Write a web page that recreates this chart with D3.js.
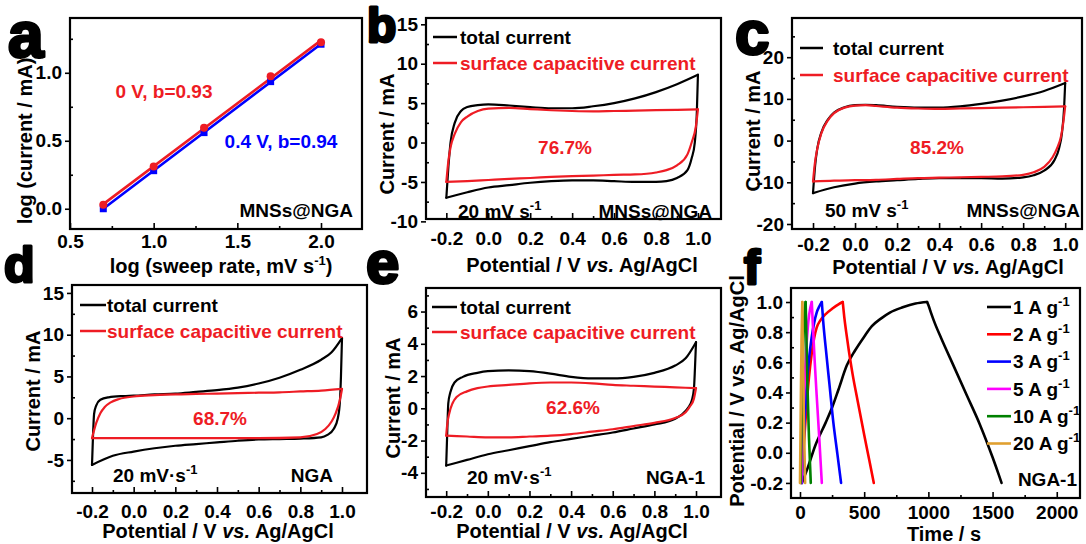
<!DOCTYPE html>
<html><head><meta charset="utf-8">
<script src="https://cdn.jsdelivr.net/npm/d3@7"></script>
<style>
body{margin:0;background:#fff;}
svg text{font-family:"Liberation Sans",Arial,sans-serif;font-weight:bold;}
</style></head><body>
<script>
// ---------------- DATA ----------------
// Panel a : log(current) vs log(sweep rate)
const logRate = [0.699, 1.0, 1.301, 1.699, 2.0];
const logI_0V = [0.03, 0.31, 0.595, 0.975, 1.225];
const logI_04V = [0.0, 0.28, 0.56, 0.935, 1.21];

// Panel b : MNSs@NGA, 20 mV/s  (anodic sweep -0.2 -> 1.0, then cathodic 1.0 -> -0.2)
const bTotalV = [-0.2,-0.19,-0.18,-0.16,-0.13,-0.1,-0.05,0,0.1,0.2,0.3,0.4,0.5,0.6,0.7,0.8,0.9,1.0, 0.995,0.985,0.97,0.95,0.9,0.85,0.8,0.7,0.6,0.5,0.4,0.3,0.2,0.1,0,-0.1,-0.2];
const bTotalI = [-7.0,-3,0,2.5,4.0,4.5,4.75,4.85,4.7,4.5,4.35,4.35,4.6,5.0,5.6,6.4,7.4,8.6, 4,0,-2,-3.5,-4.5,-4.9,-5.0,-5.0,-4.9,-4.8,-4.8,-4.9,-5.1,-5.4,-5.7,-6.3,-7.0];
const bSurfV = [-0.2,-0.19,-0.18,-0.16,-0.13,-0.1,-0.05,0,0.1,0.2,0.3,0.4,0.5,0.6,0.7,0.8,0.9,1.0, 0.99,0.97,0.95,0.9,0.85,0.8,0.7,0.6,0.5,0.4,0.3,0.2,0.1,0,-0.1,-0.2];
const bSurfI = [-5.0,-2.3,-0.6,1.1,2.6,3.3,4.0,4.3,4.4,4.25,4.1,4.0,3.95,4.0,4.05,4.1,4.15,4.2, 2.0,0.0,-1.5,-2.9,-3.5,-3.8,-4.05,-4.1,-4.2,-4.25,-4.35,-4.5,-4.6,-4.75,-4.9,-5.0];

// Panel c : MNSs@NGA, 50 mV/s
const cTotalV = [-0.2,-0.19,-0.18,-0.16,-0.13,-0.1,-0.05,0,0.05,0.1,0.2,0.3,0.4,0.5,0.6,0.7,0.8,0.9,1.0, 0.995,0.985,0.97,0.95,0.9,0.85,0.8,0.7,0.6,0.5,0.4,0.3,0.2,0.1,0,-0.1,-0.2];
const cTotalI = [-12.6,-6,-2,2,5,6.7,8.0,8.5,8.6,8.5,8.1,7.9,7.9,8.2,8.8,9.6,10.6,11.9,13.8, 8,2,-2,-4.6,-7.2,-8.3,-8.8,-9.1,-9.0,-9.0,-9.0,-9.2,-9.5,-9.8,-10.3,-11.2,-12.6];
const cSurfV = [-0.2,-0.19,-0.18,-0.16,-0.13,-0.1,-0.05,0,0.05,0.1,0.2,0.3,0.4,0.5,0.6,0.7,0.8,0.9,1.0, 0.99,0.98,0.96,0.94,0.9,0.85,0.8,0.7,0.6,0.5,0.4,0.3,0.2,0.1,0,-0.1,-0.2];
const cSurfI = [-9.8,-5,-2,1.8,4.8,6.6,7.9,8.4,8.5,8.3,7.9,7.7,7.6,7.7,7.8,7.9,8.0,8.1,8.2, 4,1,-2,-4.0,-6.3,-7.6,-8.2,-8.6,-8.7,-8.8,-8.9,-9.0,-9.2,-9.4,-9.5,-9.6,-9.8];

// Panel d : NGA, 20 mV/s
const dTotalV = [-0.2,-0.195,-0.19,-0.18,-0.16,-0.12,-0.05,0,0.1,0.2,0.3,0.4,0.5,0.6,0.7,0.8,0.9,0.95,1.0, 0.995,0.99,0.98,0.96,0.93,0.9,0.8,0.7,0.6,0.5,0.4,0.3,0.2,0.1,0,-0.1,-0.2];
const dTotalI = [-5.6,-2,0.5,1.5,2.2,2.5,2.65,2.7,2.85,2.95,3.15,3.35,3.65,4.15,4.85,5.8,7.0,7.9,9.6, 5,2,0,-1.3,-2.0,-2.3,-2.45,-2.5,-2.55,-2.7,-2.9,-3.1,-3.3,-3.6,-4.0,-4.5,-5.6];
const dSurfV = [-0.2,-0.18,-0.16,-0.14,-0.11,-0.07,0,0.1,0.2,0.3,0.4,0.5,0.6,0.7,0.8,0.9,1.0, 0.99,0.97,0.95,0.92,0.88,0.8,0.6,0.4,0.2,0,-0.2];
const dSurfI = [-2.4,-0.6,0.6,1.3,1.9,2.3,2.6,2.75,2.85,2.9,2.95,3.0,3.05,3.1,3.2,3.3,3.5, 2.2,0.6,-0.4,-1.3,-1.9,-2.3,-2.4,-2.4,-2.4,-2.4,-2.4];

// Panel e : NGA-1, 20 mV/s
const eTotalV = [-0.2,-0.195,-0.19,-0.18,-0.16,-0.12,-0.05,0,0.1,0.2,0.3,0.4,0.5,0.6,0.7,0.8,0.9,0.95,1.0, 0.995,0.99,0.98,0.96,0.93,0.9,0.8,0.7,0.6,0.5,0.4,0.3,0.2,0.1,0,-0.1,-0.2];
const eTotalI = [-3.55,-1.5,0.3,1.0,1.6,1.95,2.2,2.3,2.35,2.3,2.15,1.95,1.85,1.85,1.95,2.2,2.65,3.1,4.1, 2.5,1.2,0.5,0.0,-0.4,-0.65,-1.0,-1.25,-1.5,-1.7,-1.9,-2.1,-2.35,-2.6,-2.85,-3.2,-3.55];
const eSurfV = [-0.2,-0.195,-0.185,-0.17,-0.15,-0.1,-0.05,0,0.1,0.2,0.3,0.4,0.5,0.6,0.7,0.8,0.9,1.0, 0.99,0.97,0.95,0.9,0.8,0.7,0.6,0.5,0.4,0.3,0.2,0.1,0,-0.1,-0.2];
const eSurfI = [-1.7,-1.0,-0.3,0.3,0.7,1.05,1.25,1.35,1.45,1.55,1.6,1.6,1.55,1.45,1.4,1.35,1.3,1.25, 0.6,0.1,-0.25,-0.6,-0.9,-1.1,-1.3,-1.45,-1.6,-1.7,-1.75,-1.8,-1.8,-1.75,-1.7];

// Panel f : NGA-1 galvanostatic charge/discharge
const gcdLabels = ["1 A g", "2 A g", "3 A g", "5 A g", "10 A g", "20 A g"];
const t1 = [15,60,120,200,250,300,365,430,500,560,630,700,800,900,990, 1000,1020,1050,1100,1200,1300,1400,1500,1550,1570];
const v1 = [-0.2,-0.1,0.05,0.2,0.3,0.42,0.58,0.68,0.77,0.84,0.89,0.93,0.965,0.99,1.0, 0.98,0.93,0.86,0.76,0.57,0.38,0.19,-0.03,-0.15,-0.2];
const t2 = [10,30,50,70,90,110,130,160,200,250,300,333, 345,360,380,410,450,500,540,575];
const v2 = [-0.2,0.05,0.3,0.5,0.65,0.76,0.83,0.88,0.92,0.955,0.985,1.0, 0.9,0.8,0.68,0.52,0.34,0.12,-0.05,-0.2];
const t3 = [15,30,50,70,90,110,130,150,170, 180,200,230,260,290,320];
const v3 = [-0.2,0.1,0.42,0.62,0.76,0.86,0.93,0.97,1.0, 0.88,0.7,0.45,0.2,0.0,-0.2];
const t5 = [10,20,35,50,65,80,92, 100,115,130,150,170];
const v5 = [-0.2,0.1,0.45,0.7,0.87,0.96,1.0, 0.85,0.6,0.38,0.1,-0.2];
const t10 = [5,15,25,35,44, 48,58,70,84];
const v10 = [-0.2,0.3,0.7,0.92,1.0, 0.85,0.45,0.1,-0.2];
const t20 = [0,6,12,18, 22,30,40];
const v20 = [-0.2,0.3,0.75,1.0, 0.7,0.25,-0.2];

// ---------------- LAYOUT / STYLE ----------------
const W = 1086, H = 544;
const FS = 19, TFS = 20;
const RED = "#ee1c24", BLUE = "#0000ff";
const gcdColors = ["#000000", "#ff0000", "#0000ff", "#ff00ff", "#008000", "#e0a030"];

const svg = d3.select("body").append("svg").attr("width", W).attr("height", H)
  .style("background", "#fff");

const hy = s => s.replace(/\u2212/g, "-");
const f1 = v => hy(d3.format(".1f")(v));
const f0 = v => hy(d3.format("d")(v));

function makePanel(p) {
  const x = d3.scaleLinear().domain(p.xd).range([p.l, p.r]);
  const y = d3.scaleLinear().domain(p.yd).range([p.b, p.t]);
  const g = svg.append("g");
  const style = sel => {
    sel.select(".domain").remove();
    sel.selectAll("line").attr("stroke", "#000").attr("stroke-width", 1.6);
    sel.selectAll("text").attr("font-size", FS).attr("fill", "#000")
      .style("font-family", '"Liberation Sans", Arial, sans-serif').style("font-weight", "bold");
  };
  g.append("g").attr("transform", `translate(0,${p.b})`)
    .call(d3.axisBottom(x).tickValues(p.xt).tickSize(-6).tickPadding(p.xpad).tickFormat(p.xf)).call(style);
  g.append("g").attr("transform", `translate(0,${p.b})`)
    .call(d3.axisBottom(x).tickValues(p.xm).tickSize(-3).tickFormat("")).call(style);
  g.append("g").attr("transform", `translate(${p.l},0)`)
    .call(d3.axisLeft(y).tickValues(p.yt).tickSize(5).tickPadding(3).tickFormat(p.yf)).call(style);
  g.append("g").attr("transform", `translate(${p.l},0)`)
    .call(d3.axisLeft(y).tickValues(p.ym).tickSize(-3).tickFormat("")).call(style);
  const plot = svg.append("g");
  svg.append("rect").attr("x", p.l).attr("y", p.t).attr("width", p.r - p.l).attr("height", p.b - p.t)
    .attr("fill", "none").attr("stroke", "#000").attr("stroke-width", 2.2);
  const xt = svg.append("text").attr("x", p.xtx).attr("y", p.xty).attr("dy", "0.35em")
    .attr("text-anchor", "middle").attr("font-size", TFS);
  p.xtitle(xt);
  const yt = svg.append("text").attr("transform", `translate(${p.ytx},${p.yty}) rotate(-90)`)
    .attr("dy", "0.35em").attr("text-anchor", "middle").attr("font-size", TFS);
  p.ytitle(yt);
  return {x, y, g: plot};
}

function sup(sel, base, supTxt, after) {
  sel.append("tspan").text(base);
  sel.append("tspan").attr("font-size", 13).attr("dy", -8).text(supTxt);
  sel.append("tspan").attr("dy", 8).text(after || "");
}
const potTitle = t => {
  t.append("tspan").text("Potential / V ");
  t.append("tspan").attr("font-style", "italic").text("vs.");
  t.append("tspan").text(" Ag/AgCl");
};
const curTitle = t => t.text("Current / mA");

function path(pan, pts, color, w, c) {
  pan.g.append("path").datum(pts)
    .attr("d", d3.line().x(d => pan.x(d[0])).y(d => pan.y(d[1])).curve(c))
    .attr("fill", "none").attr("stroke", color).attr("stroke-width", w)
    .attr("stroke-linejoin", "round").attr("stroke-linecap", "round");
}
// draw a curve split at its x-maximum into two x-monotone branches
function branches(pan, xs, ys, color, w) {
  const pts = xs.map((v, i) => [v, ys[i]]);
  const k = d3.maxIndex(xs);
  path(pan, pts.slice(0, k + 1), color, w, d3.curveMonotoneX);
  path(pan, pts.slice(k).reverse(), color, w, d3.curveMonotoneX);
}
// GCD: split at potential maximum (charge / discharge)
function gcd(pan, ts, vs, color, w) {
  const pts = ts.map((v, i) => [v, vs[i]]);
  const k = d3.maxIndex(vs);
  path(pan, pts.slice(0, k + 1), color, w, d3.curveMonotoneX);
  path(pan, pts.slice(k), color, w, d3.curveMonotoneX);
}
function label(x, y, txt, color, anchor) {
  return svg.append("text").attr("x", x).attr("y", y).attr("dy", "0.35em")
    .attr("text-anchor", anchor || "start").attr("font-size", FS).attr("fill", color || "#000").text(txt);
}
function rateLabel(x, y, rate, dot) {
  const t = svg.append("text").attr("x", x).attr("y", y).attr("dy", "0.35em").attr("font-size", FS);
  sup(t, rate + (dot ? " mV\u00b7s" : " mV s"), "-1");
}
function legendRow(x1, x2, tx, y, color, txt) {
  svg.append("line").attr("x1", x1).attr("x2", x2).attr("y1", y).attr("y2", y)
    .attr("stroke", color).attr("stroke-width", 2.5);
  label(tx, y, txt, color);
}

const cvXt = [-0.2, 0, 0.2, 0.4, 0.6, 0.8, 1.0];
const cvXm = [-0.1, 0.1, 0.3, 0.5, 0.7, 0.9];

// ---------- Panel a ----------
const A = makePanel({l: 70, r: 362, t: 18, b: 229, xd: [0.5, 2.245], yd: [-0.149, 1.403],
  xt: [0.5, 1.0, 1.5, 2.0], xm: [0.75, 1.25, 1.75], yt: [0, 0.5, 1.0], ym: [0.25, 0.75, 1.25],
  xf: f1, yf: f1, xpad: 6,
  xtx: 221, xty: 266, xtitle: t => { sup(t, "log (sweep rate, mV s", "-1", ")"); },
  ytx: 25, yty: 141, ytitle: t => t.text("log (current / mA)")});
function fitLine(xs, ys) {
  const n = xs.length, mx = d3.mean(xs), my = d3.mean(ys);
  const k = d3.sum(xs.map((v, i) => (v - mx) * (ys[i] - my))) / d3.sum(xs.map(v => (v - mx) ** 2));
  return [[xs[0], my + k * (xs[0] - mx)], [xs[n - 1], my + k * (xs[n - 1] - mx)]];
}
[[logI_04V, BLUE], [logI_0V, RED]].forEach(([ys, c]) => {
  path(A, fitLine(logRate, ys), c, 2.6, d3.curveLinear);
});
A.g.selectAll("rect.pt").data(logRate).join("rect")
  .attr("x", (d) => A.x(d) - 3.5).attr("y", (d, i) => A.y(logI_04V[i]) - 3.5)
  .attr("width", 7).attr("height", 7).attr("fill", BLUE);
A.g.selectAll("circle.pt").data(logRate).join("circle")
  .attr("cx", d => A.x(d)).attr("cy", (d, i) => A.y(logI_0V[i])).attr("r", 4).attr("fill", RED);
label(164, 91, "0 V, b=0.93", RED, "middle");
label(281, 141, "0.4 V, b=0.94", BLUE, "middle");
label(353, 210, "MNSs@NGA", "#000", "end");

// ---------- Panel b ----------
const B = makePanel({l: 426, r: 721, t: 18, b: 219, xd: [-0.297, 1.11], yd: [-9.7, 15.8],
  xt: cvXt, xm: cvXm, yt: [-10, -5, 0, 5, 10, 15], ym: [-7.5, -2.5, 2.5, 7.5, 12.5],
  xf: f1, yf: f0, xpad: 13,
  xtx: 582, xty: 265, xtitle: potTitle, ytx: 387, yty: 134, ytitle: curTitle});
branches(B, bTotalV, bTotalI, "#000", 2.2);
branches(B, bSurfV, bSurfI, RED, 2.2);
legendRow(433, 457, 460, 37, "#000", "total current");
legendRow(433, 457, 460, 63, RED, "surface capacitive current");
label(565, 147, "76.7%", RED, "middle");
rateLabel(458, 211, "20", false);
label(712, 211, "MNSs@NGA", "#000", "end");

// ---------- Panel c ----------
const C = makePanel({l: 792, r: 1082, t: 18, b: 229, xd: [-0.3, 1.08], yd: [-21.2, 29.4],
  xt: cvXt, xm: cvXm, yt: [-20, -10, 0, 10, 20], ym: [-15, -5, 5, 15, 25],
  xf: f1, yf: f0, xpad: 9,
  xtx: 948, xty: 267, xtitle: potTitle, ytx: 753, yty: 131, ytitle: curTitle});
branches(C, cTotalV, cTotalI, "#000", 2.2);
branches(C, cSurfV, cSurfI, RED, 2.2);
legendRow(800, 823, 833, 48, "#000", "total current");
legendRow(800, 823, 833, 75, RED, "surface capacitive current");
label(937, 147, "85.2%", RED, "middle");
rateLabel(825, 210, "50", false);
label(1080, 210, "MNSs@NGA", "#000", "end");

// ---------- Panel d ----------
const D = makePanel({l: 72, r: 367, t: 285, b: 493, xd: [-0.296, 1.12], yd: [-8.96, 15.95],
  xt: cvXt, xm: cvXm, yt: [-5, 0, 5, 10, 15], ym: [-7.5, -2.5, 2.5, 7.5, 12.5],
  xf: f1, yf: f0, xpad: 12,
  xtx: 218, xty: 531, xtitle: potTitle, ytx: 33, yty: 391, ytitle: curTitle});
branches(D, dTotalV, dTotalI, "#000", 2.2);
branches(D, dSurfV, dSurfI, RED, 2.2);
legendRow(80, 106, 107, 305, "#000", "total current");
legendRow(80, 106, 107, 331, RED, "surface capacitive current");
label(220, 418, "68.7%", RED, "middle");
rateLabel(113, 475, "20", true);
label(333, 475, "NGA", "#000", "end");

// ---------- Panel e ----------
const E = makePanel({l: 426, r: 721, t: 288, b: 497, xd: [-0.297, 1.12], yd: [-5.5, 7.46],
  xt: cvXt, xm: cvXm, yt: [-4, -2, 0, 2, 4, 6], ym: [-5, -3, -1, 1, 3, 5, 7],
  xf: f1, yf: f0, xpad: 8,
  xtx: 572, xty: 531, xtitle: potTitle, ytx: 393, yty: 398, ytitle: curTitle});
branches(E, eTotalV, eTotalI, "#000", 2.2);
branches(E, eSurfV, eSurfI, RED, 2.2);
legendRow(432, 457, 460, 307, "#000", "total current");
legendRow(432, 457, 460, 332, RED, "surface capacitive current");
label(573, 407, "62.6%", RED, "middle");
rateLabel(467, 477, "20", true);
label(705, 477, "NGA-1", "#000", "end");

// ---------- Panel f ----------
const F = makePanel({l: 791, r: 1080, t: 288, b: 498, xd: [-70, 2181], yd: [-0.3, 1.093],
  xt: [0, 500, 1000, 1500, 2000], xm: [250, 750, 1250, 1750],
  yt: [-0.2, 0, 0.2, 0.4, 0.6, 0.8, 1.0], ym: [-0.1, 0.1, 0.3, 0.5, 0.7, 0.9],
  xf: f0, yf: f1, xpad: 8,
  xtx: 944, xty: 534, xtitle: t => t.text("Time / s"),
  ytx: 737, yty: 391, ytitle: t => t.text("Potential / V vs. Ag/AgCl")});
const gcdT = [t1, t2, t3, t5, t10, t20], gcdV = [v1, v2, v3, v5, v10, v20];
gcdT.forEach((ts, i) => gcd(F, ts, gcdV[i], gcdColors[i], 2.6));
gcdLabels.forEach((lb, i) => {
  const y = 307 + i * 27.3;
  svg.append("line").attr("x1", 987).attr("x2", 1011).attr("y1", y).attr("y2", y)
    .attr("stroke", gcdColors[i]).attr("stroke-width", 2.6);
  const t = svg.append("text").attr("x", 1013).attr("y", y).attr("dy", "0.35em").attr("font-size", FS);
  sup(t, lb, "-1");
});
label(1077, 479, "NGA-1", "#000", "end");

// ---------- Panel letters ----------
const letters = [["a", 8, 57, 64], ["b", 367, 42, 48], ["c", 735, 54, 62],
                 ["d", 4, 282, 50], ["e", 366, 283, 60], ["f", 744, 284, 48]];
letters.forEach(([s, x, y, fs]) => {
  svg.append("text").attr("x", x).attr("y", y).attr("font-size", fs)
    .attr("fill", "#000").attr("stroke", "#000").attr("stroke-width", 3)
    .attr("stroke-linejoin", "round").text(s);
});
</script></body></html>
